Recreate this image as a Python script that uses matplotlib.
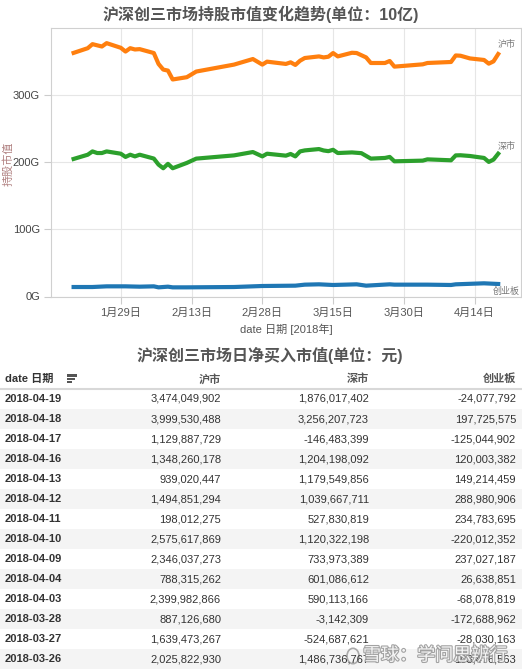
import numpy as np
import pandas as pd
import matplotlib
matplotlib.use("Agg")
import matplotlib.pyplot as plt
import matplotlib.dates as mdates
from matplotlib.patches import Rectangle
from matplotlib.lines import Line2D
import matplotlib.patheffects as pe

plt.rcParams['font.family'] = ['Liberation Sans', 'Noto Sans CJK SC', 'DejaVu Sans']

# 持股市值 (单位: 10亿)
sh_dates = ['01-19', '01-22', '01-23', '01-25', '01-26', '01-29', '01-30', '01-31', '02-01', '02-02',
            '02-05', '02-06', '02-07', '02-08', '02-09', '02-12', '02-14', '02-22', '02-26', '02-28',
            '03-01', '03-05', '03-06', '03-07', '03-08', '03-09', '03-12', '03-13', '03-14', '03-15',
            '03-16', '03-19', '03-20', '03-22', '03-23', '03-26', '03-27', '03-28', '04-03', '04-04',
            '04-09', '04-10', '04-11', '04-13', '04-16', '04-17', '04-18', '04-19']
sh_values = [362, 369, 375, 371.5, 376.5, 369.6, 364, 369, 367.1, 367.6,
             361.8, 345.6, 337.2, 335.7, 322.5, 325.9, 334.3, 344.6, 352.9, 344.6,
             349, 345.6, 348, 344.1, 350.4, 354.4, 356.8, 355.3, 356.3, 361.8,
             356.8, 362.2, 361.8, 355.3, 347, 347, 350, 341.6, 345, 347,
             348.5, 358.2, 357.8, 353.8, 351.5, 346, 349.4, 360.3]

sz_dates = ['01-19', '01-22', '01-23', '01-24', '01-25', '01-26', '01-29', '01-30', '01-31', '02-01',
            '02-02', '02-05', '02-06', '02-07', '02-08', '02-09', '02-12', '02-14', '02-22', '02-26',
            '02-28', '03-01', '03-05', '03-06', '03-07', '03-08', '03-09', '03-12', '03-13', '03-14',
            '03-15', '03-16', '03-19', '03-21', '03-23', '03-26', '03-27', '03-28', '04-03', '04-04',
            '04-09', '04-10', '04-11', '04-13', '04-16', '04-17', '04-18', '04-19']
sz_values = [204.4, 210.7, 215.6, 213.2, 213.2, 215.6, 212.2, 207.4, 210.7, 208.2,
             210.7, 205, 196, 190.6, 197.1, 190.6, 198.5, 204.9, 209.7, 214.7,
             208.2, 212.2, 209.3, 211.8, 208.2, 215.6, 217.1, 219.1, 217, 216,
             218, 213.2, 214.1, 213, 204.9, 205.9, 207.4, 200.9, 201.9, 203.8,
             202.4, 209.7, 209.9, 208.8, 205.9, 200, 203.4, 212.2]

cy_dates = ['01-19', '01-23', '01-26', '01-30', '02-02', '02-05', '02-06', '02-08', '02-09', '02-12',
            '02-22', '02-28', '03-07', '03-09', '03-12', '03-15', '03-20', '03-22', '03-27', '03-28',
            '04-04', '04-09', '04-10', '04-16', '04-19']
cy_values = [14.1, 14.1, 15.1, 15.1, 14.6, 15.1, 13.6, 14.6, 13.6, 13.6,
             14.1, 15.6, 16.1, 17.6, 18.1, 17.1, 18.1, 16.1, 18.1, 17.6,
             17.6, 17.1, 18.1, 19.6, 18.6]

tick_dates = ['2018-01-29', '2018-02-13', '2018-02-28', '2018-03-15', '2018-03-30', '2018-04-14']
tick_labels = ['1月29日', '2月13日', '2月28日', '3月15日', '3月30日', '4月14日']
y_ticks = [0, 100, 200, 300]
y_labels = ['0G', '100G', '200G', '300G']

# 日净买入市值 (单位: 元)
tbl_dates = ['2018-04-19', '2018-04-18', '2018-04-17', '2018-04-16', '2018-04-13', '2018-04-12',
             '2018-04-11', '2018-04-10', '2018-04-09', '2018-04-04', '2018-04-03', '2018-03-28',
             '2018-03-27', '2018-03-26']
tbl_sh = [3474049902, 3999530488, 1129887729, 1348260178, 939020447, 1494851294,
          198012275, 2575617869, 2346037273, 788315262, 2399982866, 887126680,
          1639473267, 2025822930]
tbl_sz = [1876017402, 3256207723, -146483399, 1204198092, 1179549856, 1039667711,
          527830819, 1120322198, 733973389, 601086612, 590113166, -3142309,
          -524687621, 1486736767]
tbl_cy = [-24077792, 197725575, -125044902, 120003382, 149214459, 288980906,
          234783695, -220012352, 237027187, 26638851, -68078819, -172688962,
          -28030163, 103476563]

W, H = 522, 669
fig = plt.figure(figsize=(W / 100, H / 100), dpi=100)


def fx(x):
    return x / W


def fy(y):
    return 1 - y / H


def to_dt(lst):
    return pd.to_datetime(['2018-' + d for d in lst])


# ---- chart ----
ax = fig.add_axes([fx(51), fy(296.5), fx(470), (296.5 - 28) / H])
ax.plot(to_dt(sh_dates), sh_values, color='#ff7f0e', lw=3, solid_joinstyle='round')
ax.plot(to_dt(sz_dates), sz_values, color='#2ca02c', lw=3, solid_joinstyle='round')
ax.plot(to_dt(cy_dates), cy_values, color='#1f77b4', lw=3, solid_joinstyle='round')

ax.set_xlim(pd.Timestamp('2018-01-14 05:00'), pd.Timestamp('2018-04-23 20:00'))
ax.set_ylim(0, 399)
ax.set_xticks(pd.to_datetime(tick_dates))
ax.set_xticklabels(tick_labels, fontsize=8, color='#555555')
ax.set_yticks(y_ticks)
ax.set_yticklabels(y_labels, fontsize=8, color='#444444')
ax.tick_params(length=5, color='#cccccc', width=0.8, pad=3)
ax.grid(True, color='#e6e6e6', lw=0.8)
ax.set_axisbelow(True)
for s in ax.spines.values():
    s.set_color('#d0d0d0')
    s.set_linewidth(0.8)

ax.set_xlabel('date 日期 [2018年]', fontsize=8, color='#555555', labelpad=4)
fig.text(fx(8), fy(164), '持股市值', rotation=90, ha='center', va='center',
         fontsize=8, color='#b08080')

fig.text(fx(507), fy(44), '沪市', fontsize=6.5, color='#777777', ha='center', va='center')
fig.text(fx(507), fy(146), '深市', fontsize=6.5, color='#777777', ha='center', va='center')
fig.text(fx(520), fy(291), '创业板', fontsize=6.5, color='#777777', ha='right', va='center')

fig.text(fx(261), fy(14), '沪深创三市场持股市值变化趋势(单位：10亿)', ha='center', va='center',
         fontsize=11.5, fontweight='bold', color='#555555')

# ---- table ----
fig.text(fx(270), fy(355), '沪深创三市场日净买入市值(单位：元)', ha='center', va='center',
         fontsize=11.5, fontweight='bold', color='#555555')

row_top = 389
row_h = 20
for i in range(len(tbl_dates)):
    if i % 2 == 1:
        fig.add_artist(Rectangle((0, fy(row_top + (i + 1) * row_h)), 1, row_h / H,
                                 transform=fig.transFigure, facecolor='#f4f4f4',
                                 edgecolor='none', zorder=0))

fig.add_artist(Line2D([0, 1], [fy(row_top), fy(row_top)], transform=fig.transFigure,
                      color='#d8d8d8', lw=1.5))

hy = fy(379)
fig.text(fx(5), hy, 'date 日期', ha='left', va='center', fontsize=8, fontweight='bold',
         color='#333333')
for k, w in enumerate([10, 8, 5]):
    fig.add_artist(Rectangle((fx(67), fy(376.5 + k * 3.3)), fx(w), 2.2 / H,
                             transform=fig.transFigure, facecolor='#555555',
                             edgecolor='none'))
col_x = [221, 369, 516]
for cx, name in zip(col_x, ['沪市', '深市', '创业板']):
    fig.text(fx(cx), hy, name, ha='right', va='center', fontsize=8, fontweight='bold',
             color='#555555')

for i, d in enumerate(tbl_dates):
    yy = fy(row_top + i * row_h + row_h / 2)
    fig.text(fx(5), yy, d, ha='left', va='center', fontsize=8, fontweight='bold', color='#333333')
    for cx, vals in zip(col_x, [tbl_sh, tbl_sz, tbl_cy]):
        fig.text(fx(cx), yy, f'{vals[i]:,}', ha='right', va='center', fontsize=8,
                 color='#333333')

# watermark
fig.text(fx(363), fy(656), '雪球：学问思辨行', ha='left', va='center', fontsize=13,
         color='white', alpha=0.9,
         path_effects=[pe.withStroke(linewidth=1.6, foreground='#999999')])
fig.add_artist(plt.Circle((fx(353), fy(656)), 6 / W, transform=fig.transFigure,
                          fill=False, edgecolor='#aaaaaa', lw=1.2))

fig.savefig('out.png', dpi=100)
